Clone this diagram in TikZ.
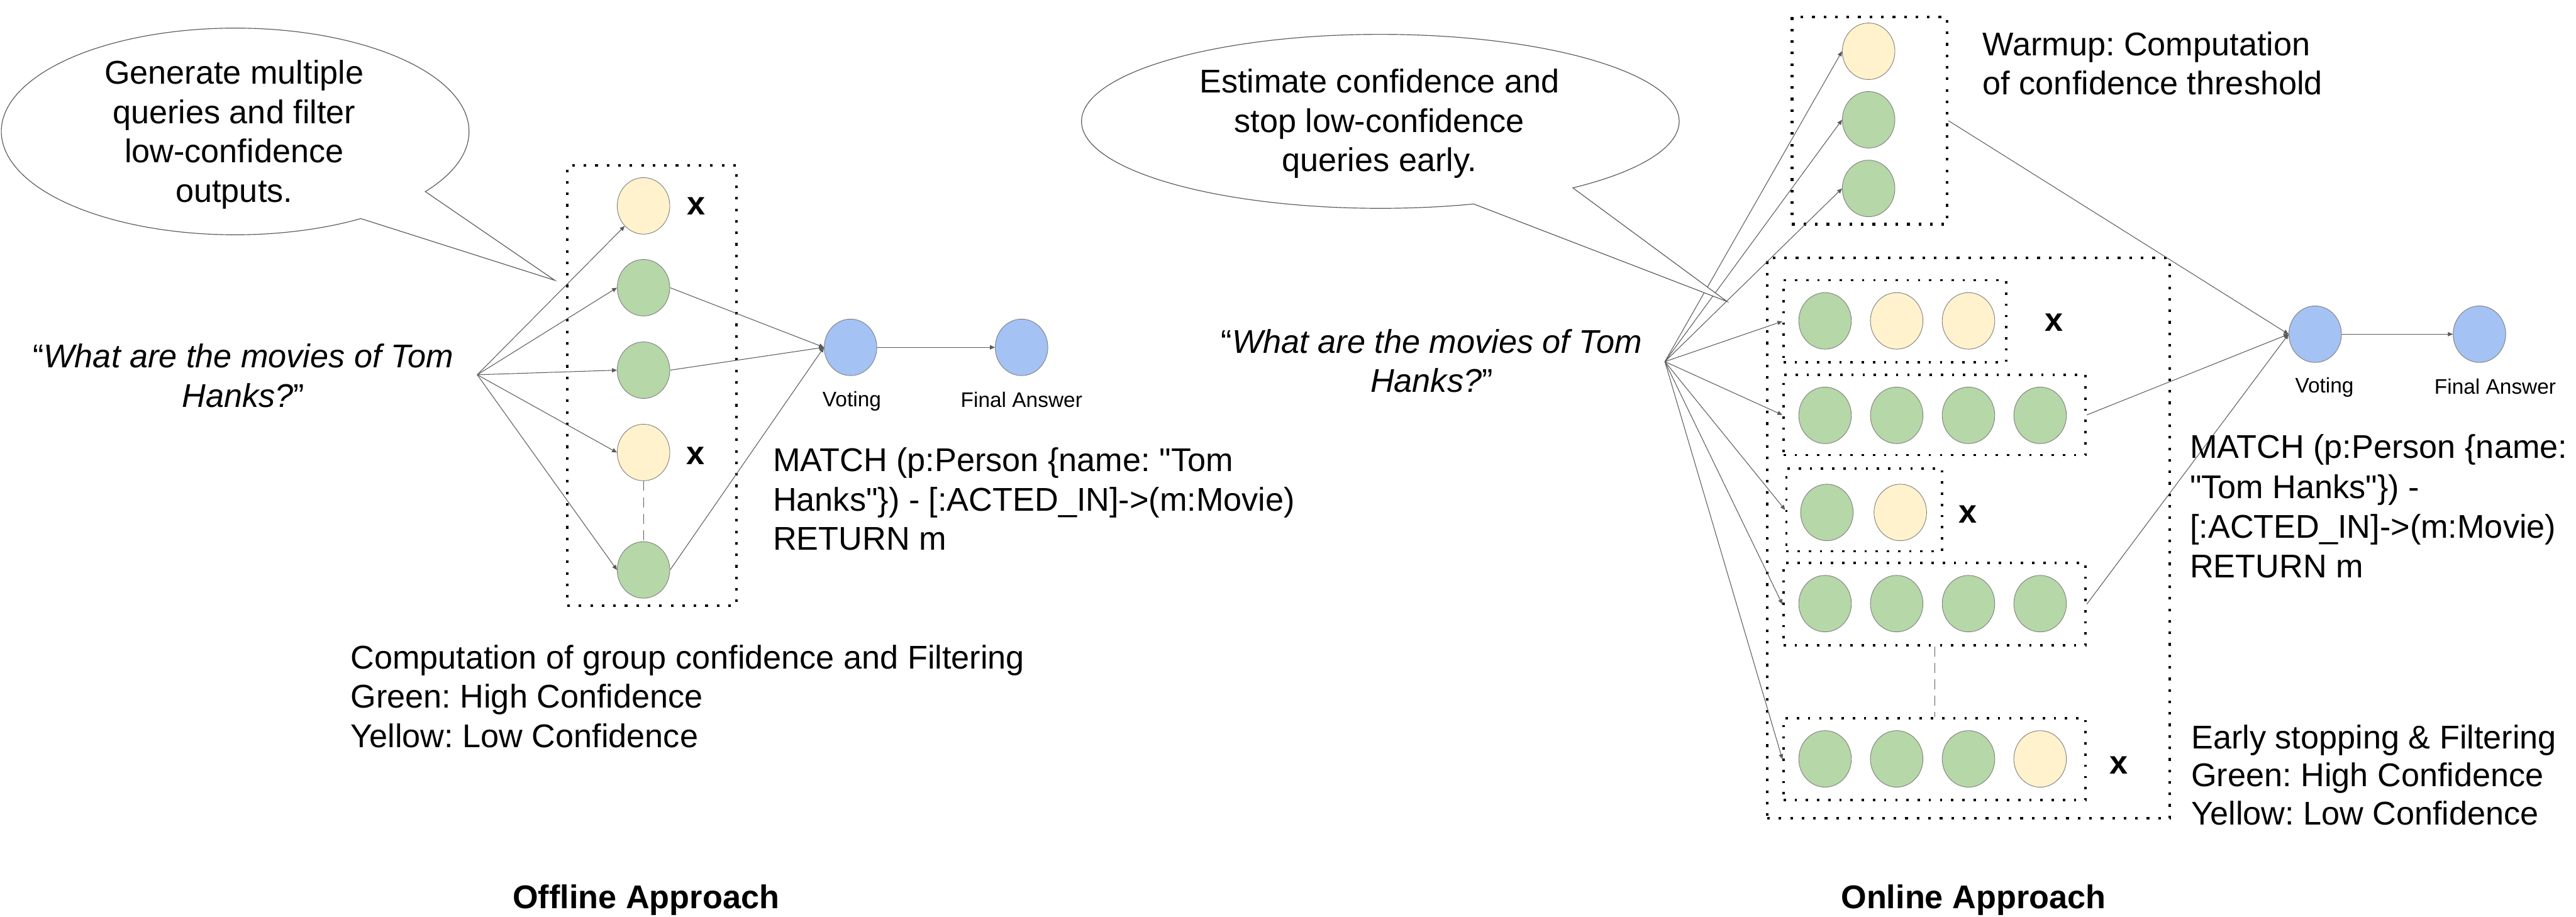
\documentclass[tikz,border=0pt]{standalone}
\usepackage{fontspec}
\setmainfont{Liberation Sans}[Ligatures=TeXOff]
\frenchspacing
\usetikzlibrary{shapes.geometric,arrows.meta}
\definecolor{yel}{HTML}{FFF2CC}
\definecolor{grn}{HTML}{B6D7A8}
\definecolor{blu}{HTML}{A4C2F4}
\definecolor{edgec}{HTML}{7F7F7F}
\definecolor{linc}{HTML}{5A5A5A}
\tikzset{
 circ/.style={ellipse, draw=edgec, line width=0.35pt, minimum width=32pt, minimum height=34.4pt, inner sep=0pt},
 ycirc/.style={circ, fill=yel},
 gcirc/.style={circ, fill=grn},
 bcirc/.style={circ, fill=blu},
 arr/.style={draw=linc, line width=0.4pt, -{Triangle[length=3pt,width=2.6pt]}},
 dotbox/.style={draw=black, line width=1.6pt, dash pattern=on 1.6pt off 5.4pt, inner sep=0pt},
 rowbox/.style={draw=black, line width=1.4pt, dash pattern=on 1.4pt off 5.4pt, inner sep=0pt},
 txt/.style={font=\fontsize{20}{23.9}\selectfont\frenchspacing, inner sep=0pt},
 lbl/.style={font=\fontsize{12.8}{15}\selectfont, inner sep=0pt},
 xmark/.style={font=\fontsize{20}{24}\selectfont\bfseries, inner sep=0pt},
 bubble/.style={draw=linc, line width=0.45pt, fill=white},
 dashln/.style={draw=linc, line width=0.45pt, dash pattern=on 6pt off 4pt},
}
\begin{document}
\frenchspacing
\begin{tikzpicture}[x=1pt,y=-1pt]
\useasboundingbox (0,0) rectangle (1568,558);

% ================= OFFLINE =================
\node[dotbox, minimum width=102.9pt, minimum height=267.8pt] (obox) at (396.75,234.7) {};
\coordinate (srcL) at (290.5,228.1);
\node[ycirc] (o1) at (391.7,125.3) {};
\node[gcirc] (o2) at (391.7,175.1) {};
\node[gcirc] (o3) at (391.7,225.3) {};
\node[ycirc] (o4) at (391.7,275.4) {};
\node[gcirc] (o5) at (391.7,346.9) {};
\node[bcirc] (vL) at (517.7,211.4) {};
\node[bcirc] (fL) at (621.8,211.4) {};
\node[xmark] (ox1) at (423.7,125.3) {x};
\node[xmark] (ox2) at (423.5,277.4) {x};
\draw[dashln] (o4.south) -- (o5.north);
\draw[arr] (srcL) -- (o1.south west);
\draw[arr] (srcL) -- (o2.west);
\draw[arr] (srcL) -- (o3.west);
\draw[arr] (srcL) -- (o4.west);
\draw[arr] (srcL) -- (o5.west);
\draw[arr] (o2.east) -- (vL.west);
\draw[arr] (o3.east) -- (vL.west);
\draw[arr] (o5.east) -- (vL.west);
\draw[arr] (vL.east) -- (fL.west);
\node[lbl, anchor=base] (vLt) at (518.5,247.4) {Voting};
\node[lbl, anchor=base] (fLt) at (621.8,248) {Final Answer};

\draw[bubble] (143.15,80) ++(35.6:142.35 and 62.9) arc[start angle=35.6, end angle=-302.5, x radius=142.35, y radius=62.9] -- (337.7,170.6) -- cycle;
% multi-line nodes: base anchor = baseline of last line
\node[txt, anchor=base, align=center] (bL) at (142.5,122.9) {Generate multiple\\queries and filter\\low-confidence\\outputs.};
\node[txt, anchor=base, align=center] (qL) at (148,247.8) {“\textit{What are the movies of Tom}\\\textit{Hanks?}”};
\node[txt, anchor=base west, align=left] (mL) at (470.3,334.8) {MATCH (p:Person \{name: "Tom\\Hanks"\}) - [:ACTED\_IN]->(m:Movie)\\RETURN m};
\node[txt, anchor=base west, align=left] (cL) at (213.2,454.8) {Computation of group confidence and Filtering\\Green: High Confidence\\Yellow: Low Confidence};
\node[txt, anchor=base, font=\fontsize{20}{24}\selectfont\bfseries] (tL) at (393.2,553.1) {Offline Approach};

% ================= ONLINE =================
\node[dotbox, minimum width=94.3pt, minimum height=126.2pt] (wbox) at (1137.95,73.4) {};
\node[dotbox, minimum width=245pt, minimum height=341pt] (bbox) at (1198.2,327.5) {};
\node[rowbox, minimum width=135.6pt, minimum height=50pt] (r1) at (1153.4,195.6) {};
\node[rowbox, minimum width=183.9pt, minimum height=48.9pt] (r2) at (1177.55,252.55) {};
\node[rowbox, minimum width=94.9pt, minimum height=50.3pt] (r3) at (1134.75,310.35) {};
\node[rowbox, minimum width=183.9pt, minimum height=50.1pt] (r4) at (1177.55,367.75) {};
\node[rowbox, minimum width=183.9pt, minimum height=49.7pt] (r5) at (1177.55,462.05) {};
\coordinate (srcR) at (1013.4,220.1);

\node[ycirc] (w1) at (1137.4,31.2) {};
\node[gcirc] (w2) at (1137.4,72.9) {};
\node[gcirc] (w3) at (1137.4,114.7) {};

\node[gcirc] (a1) at (1110.9,195.3) {};
\node[ycirc] (a2) at (1154.5,195.3) {};
\node[ycirc] (a3) at (1198.2,195.3) {};

\node[gcirc] (b1) at (1110.9,252.8) {};
\node[gcirc] (b2) at (1154.5,252.8) {};
\node[gcirc] (b3) at (1198.2,252.8) {};
\node[gcirc] (b4) at (1241.8,252.8) {};

\node[gcirc] (c1) at (1112,311.9) {};
\node[ycirc] (c2) at (1156.7,311.9) {};

\node[gcirc] (d1) at (1110.9,367.4) {};
\node[gcirc] (d2) at (1154.5,367.4) {};
\node[gcirc] (d3) at (1198.2,367.4) {};
\node[gcirc] (d4) at (1241.8,367.4) {};

\node[gcirc] (e1) at (1110.9,461.9) {};
\node[gcirc] (e2) at (1154.5,461.9) {};
\node[gcirc] (e3) at (1198.2,461.9) {};
\node[ycirc] (e4) at (1241.8,461.9) {};

\node[xmark] (rx1) at (1250.3,196.1) {x};
\node[xmark] (rx3) at (1197.9,313) {x};
\node[xmark] (rx5) at (1289.5,465.7) {x};

\draw[dashln] (r4.south) -- (r5.north);

\node[bcirc] (vR) at (1409.2,203.4) {};
\node[bcirc] (fR) at (1509.2,203.4) {};

\draw[arr] (srcR) -- (w1.west);
\draw[arr] (srcR) -- (w2.west);
\draw[arr] (srcR) -- (w3.west);
\draw[arr] (srcR) -- (r1.west);
\draw[arr] (srcR) -- (r2.west);
\draw[arr] (srcR) -- (r3.west);
\draw[arr] (srcR) -- (r4.west);
\draw[arr] (srcR) -- (r5.west);
\draw[arr] (wbox.east) -- (vR.west);
\draw[arr] (r2.east) -- (vR.west);
\draw[arr] (r4.east) -- (vR.west);
\draw[arr] (vR.east) -- (fR.west);
\node[lbl, anchor=base] (vRt) at (1414.9,239.1) {Voting};
\node[lbl, anchor=base] (fRt) at (1518.8,239.9) {Final Answer};

\draw[bubble] (840.2,73.85) ++(49.9:181.9 and 52.95) arc[start angle=49.9, end angle=-288.2, x radius=181.9, y radius=52.95] -- (1051.2,183.5) -- cycle;
\node[txt, anchor=base, align=center] (bR) at (839.6,104.3) {Estimate confidence and\\stop low-confidence\\queries early.};
\node[txt, anchor=base, align=center] (qR) at (871.4,238.7) {“\textit{What are the movies of Tom}\\\textit{Hanks?}”};
\node[txt, anchor=base west, align=left] (wt) at (1206.7,57.6) {Warmup: Computation\\of confidence threshold};
\node[txt, anchor=base west, align=left, font=\fontsize{20}{24.2}\selectfont\frenchspacing] (mR) at (1332.8,351.6) {MATCH (p:Person \{name:\\"Tom Hanks"\}) -\\{[}:ACTED\_IN{]}->(m:Movie)\\RETURN m};
\node[txt, anchor=base west, align=left, font=\fontsize{20}{23.2}\selectfont\frenchspacing] (cR) at (1333.6,502) {Early stopping \& Filtering\\Green: High Confidence\\Yellow: Low Confidence};
\node[txt, anchor=base, font=\fontsize{20}{24}\selectfont\bfseries] (tR) at (1201.2,553.1) {Online Approach};
\end{tikzpicture}
\end{document}
